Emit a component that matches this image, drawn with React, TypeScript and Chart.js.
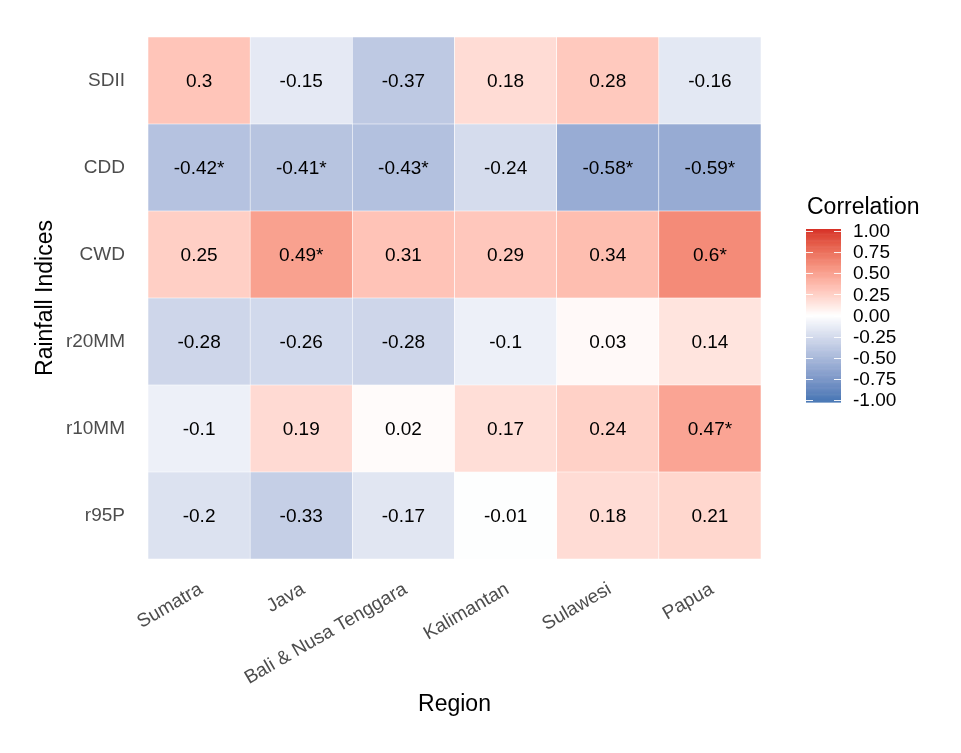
import React, { useEffect, useRef } from "react";
import { Chart, registerables } from "chart.js";

Chart.register(...registerables);

// Regions along the x axis
const REGIONS = ["Sumatra", "Java", "Bali & Nusa Tenggara", "Kalimantan", "Sulawesi", "Papua"];

// Rainfall indices, listed bottom row first
const INDICES = ["r95P", "r10MM", "r20MM", "CWD", "CDD", "SDII"];

// Correlation per index, one value per region
const R95P = [-0.2, -0.33, -0.17, -0.01, 0.18, 0.21];
const R10MM = [-0.1, 0.19, 0.02, 0.17, 0.24, 0.47];
const R20MM = [-0.28, -0.26, -0.28, -0.1, 0.03, 0.14];
const CWD = [0.25, 0.49, 0.31, 0.29, 0.34, 0.6];
const CDD = [-0.42, -0.41, -0.43, -0.24, -0.58, -0.59];
const SDII = [0.3, -0.15, -0.37, 0.18, 0.28, -0.16];

// Significance flags (marked with *)
const R95P_SIG = [false, false, false, false, false, false];
const R10MM_SIG = [false, false, false, false, false, true];
const R20MM_SIG = [false, false, false, false, false, false];
const CWD_SIG = [false, true, false, false, false, true];
const CDD_SIG = [true, true, true, false, true, true];
const SDII_SIG = [false, false, false, false, false, false];

const VALUES = [R95P, R10MM, R20MM, CWD, CDD, SDII];
const SIGNIF = [R95P_SIG, R10MM_SIG, R20MM_SIG, CWD_SIG, CDD_SIG, SDII_SIG];

// Colour bar breaks
const LEGEND_BREAKS = [1, 0.75, 0.5, 0.25, 0, -0.25, -0.5, -0.75, -1];

const LOW = "#4575B4";
const MID = "#FFFFFF";
const HIGH = "#D73027";
const FONT = '"Liberation Sans", Arial, Helvetica, sans-serif';
const TEXT_SIZE = 19;
const TITLE_SIZE = 23;

// --- Lab colour interpolation (diverging gradient) ---
function hexToRgb(h: string): number[] {
  const n = parseInt(h.slice(1), 16);
  return [(n >> 16) & 255, (n >> 8) & 255, n & 255];
}
function toLin(c: number) {
  c /= 255;
  return c <= 0.04045 ? c / 12.92 : Math.pow((c + 0.055) / 1.055, 2.4);
}
function fromLin(c: number) {
  const v = c <= 0.0031308 ? 12.92 * c : 1.055 * Math.pow(c, 1 / 2.4) - 0.055;
  return Math.round(Math.max(0, Math.min(1, v)) * 255);
}
const WX = 0.95047, WY = 1.0, WZ = 1.08883;
function rgbToLab(rgb: number[]): number[] {
  const [r, g, b] = rgb.map(toLin);
  const x = (r * 0.4124 + g * 0.3576 + b * 0.1805) / WX;
  const y = (r * 0.2126 + g * 0.7152 + b * 0.0722) / WY;
  const z = (r * 0.0193 + g * 0.1192 + b * 0.9505) / WZ;
  const f = (t: number) => (t > 0.008856 ? Math.cbrt(t) : 7.787 * t + 16 / 116);
  const fx = f(x), fy = f(y), fz = f(z);
  return [116 * fy - 16, 500 * (fx - fy), 200 * (fy - fz)];
}
function labToRgb(lab: number[]): number[] {
  const [L, a, bb] = lab;
  const fy = (L + 16) / 116;
  const fx = fy + a / 500;
  const fz = fy - bb / 200;
  const inv = (t: number) => (t * t * t > 0.008856 ? t * t * t : (t - 16 / 116) / 7.787);
  const x = inv(fx) * WX, y = inv(fy) * WY, z = inv(fz) * WZ;
  const r = x * 3.2406 + y * -1.5372 + z * -0.4986;
  const g = x * -0.9689 + y * 1.8758 + z * 0.0415;
  const b = x * 0.0557 + y * -0.204 + z * 1.057;
  return [fromLin(r), fromLin(g), fromLin(b)];
}
const LAB_LOW = rgbToLab(hexToRgb(LOW));
const LAB_MID = rgbToLab(hexToRgb(MID));
const LAB_HIGH = rgbToLab(hexToRgb(HIGH));
function colorFor(v: number): string {
  const t = Math.min(1, Math.abs(v));
  const end = v >= 0 ? LAB_HIGH : LAB_LOW;
  const lab = LAB_MID.map((m, i) => m + (end[i] - m) * t);
  const [r, g, b] = labToRgb(lab);
  return `rgb(${r},${g},${b})`;
}

// Writes the correlation value in each tile
const cellLabels = {
  id: "cellLabels",
  afterDatasetsDraw(chart: any) {
    const ctx = chart.ctx;
    ctx.save();
    ctx.font = `${TEXT_SIZE}px ${FONT}`;
    ctx.fillStyle = "#000000";
    ctx.textAlign = "center";
    ctx.textBaseline = "middle";
    chart.data.datasets.forEach((_ds: any, di: number) => {
      const meta = chart.getDatasetMeta(di);
      meta.data.forEach((el: any, ci: number) => {
        const { x, y, base } = el.getProps(["x", "y", "base"], true);
        const v = VALUES[di][ci];
        const txt = String(v) + (SIGNIF[di][ci] ? "*" : "");
        ctx.fillText(txt, x, (y + base) / 2 + 1);
      });
    });
    ctx.restore();
  },
};

// Colour bar legend on the right
const colorBar = {
  id: "colorBar",
  afterDraw(chart: any) {
    const ctx = chart.ctx;
    const x0 = 806, w = 35, top = 229, bottom = 402;
    ctx.save();
    ctx.font = `${TITLE_SIZE}px ${FONT}`;
    ctx.fillStyle = "#000000";
    ctx.textAlign = "left";
    ctx.textBaseline = "middle";
    ctx.fillText("Correlation", 807, 208);

    const steps = 200;
    const h = (bottom - top) / steps;
    for (let i = 0; i < steps; i++) {
      const v = 1 - (2 * (i + 0.5)) / steps;
      ctx.fillStyle = colorFor(v);
      ctx.fillRect(x0, top + i * h, w, h + 0.6);
    }
    const yFor = (v: number) => top + 2 + ((1 - v) / 2) * (bottom - top - 4);
    ctx.strokeStyle = "rgba(255,255,255,0.9)";
    ctx.lineWidth = 1;
    ctx.font = `${TEXT_SIZE}px ${FONT}`;
    ctx.fillStyle = "#000000";
    LEGEND_BREAKS.forEach((v) => {
      const y = Math.round(yFor(v)) + 0.5;
      ctx.beginPath();
      ctx.moveTo(x0, y);
      ctx.lineTo(x0 + 7, y);
      ctx.moveTo(x0 + w - 7, y);
      ctx.lineTo(x0 + w, y);
      ctx.stroke();
      ctx.fillText(v.toFixed(2), 853, yFor(v) + 1);
    });
    ctx.restore();
  },
};

export default function App() {
  const ref = useRef<HTMLCanvasElement | null>(null);

  useEffect(() => {
    document.body.style.margin = "0";
    const canvas = ref.current;
    if (!canvas) return;

    const datasets = INDICES.map((name, i) => ({
      label: name,
      data: VALUES[i].map(() => 1),
      backgroundColor: VALUES[i].map(colorFor),
      borderColor: "#FFFFFF",
      borderWidth: 0.6,
      borderSkipped: false,
      barPercentage: 1,
      categoryPercentage: 1,
    }));

    const chart = new Chart(canvas, {
      type: "bar",
      data: { labels: REGIONS, datasets },
      plugins: [cellLabels, colorBar],
      options: {
        responsive: false,
        animation: false,
        devicePixelRatio: 1,
        layout: { padding: { left: 0, right: 200, top: 37, bottom: 0 } },
        plugins: { legend: { display: false }, tooltip: { enabled: false } },
        scales: {
          x: {
            type: "category",
            stacked: true,
            grid: { display: false, drawTicks: false },
            border: { display: false },
            ticks: {
              autoSkip: false,
              minRotation: 30,
              maxRotation: 30,
              padding: 19,
              labelOffset: 2,
              color: "#4D4D4D",
              font: { family: FONT, size: TEXT_SIZE },
            },
            title: {
              display: true,
              text: "Region",
              color: "#000000",
              font: { family: FONT, size: TITLE_SIZE },
              padding: { top: 0, bottom: 35 },
            },
            afterFit: (s: any) => {
              s.height = 194;
            },
          },
          y: {
            type: "linear",
            stacked: true,
            min: 0,
            max: 6,
            grid: { display: false, drawTicks: false },
            border: { display: false },
            afterBuildTicks: (s: any) => {
              s.ticks = INDICES.map((_n, i) => ({ value: i + 0.5 }));
            },
            ticks: {
              autoSkip: false,
              padding: 23,
              color: "#4D4D4D",
              font: { family: FONT, size: TEXT_SIZE },
              callback: (_v: any, i: number) => INDICES[i],
            },
            title: {
              display: true,
              text: "Rainfall Indices",
              color: "#000000",
              font: { family: FONT, size: TITLE_SIZE },
              padding: { top: 32, bottom: 0 },
            },
            afterFit: (s: any) => {
              s.width = 148;
            },
          },
        },
      },
    } as any);

    return () => chart.destroy();
  }, []);

  return (
    <div style={{ width: 961, height: 753 }}>
      <canvas ref={ref} width={961} height={753} />
    </div>
  );
}
